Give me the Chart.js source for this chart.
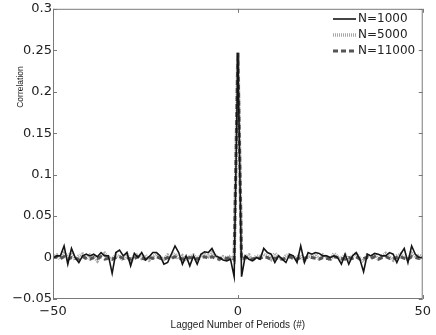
<!DOCTYPE html>
<html>
<head>
<meta charset="utf-8">
<script src="https://cdn.jsdelivr.net/npm/chart.js@4.4.1/dist/chart.umd.min.js"></script>
<style>
  html, body { margin: 0; padding: 0; background: #fff; }
  #wrap { width: 436px; height: 335px; position: relative; }
</style>
</head>
<body>
<div id="wrap"><canvas id="grafico"></canvas></div>
<script>
// lags -50 .. 50
const lags = [];
for (let i = -50; i <= 50; i++) lags.push(i);

const seriesNames = ['N=1000', 'N=5000', 'N=11000'];

const corrN1000 = [
  -0.001, 0.002, 0.002, 0.014, -0.008, 0.011, 0.000, -0.006, 0.002, 0.004,
  0.002, 0.004, 0.001, 0.006, 0.002, 0.002, -0.019, 0.006, 0.009, 0.002,
  0.006, -0.010, 0.005, 0.000, 0.006, -0.003, 0.001, 0.006, 0.006, 0.002,
  -0.008, -0.006, 0.004, 0.014, 0.006, -0.008, 0.002, -0.010, 0.002, -0.008,
  0.004, 0.007, 0.006, 0.011, 0.002, 0.000, -0.003, -0.004, -0.002, -0.023,
  0.247,
  -0.023, 0.002, -0.002, -0.004, 0.000, -0.002, 0.011, 0.006, 0.004, -0.006,
  0.002, -0.002, -0.006, 0.004, 0.002, -0.006, 0.014, -0.006, 0.006, 0.004,
  0.006, 0.005, 0.002, 0.002, 0.000, 0.002, 0.000, -0.008, 0.004, -0.008,
  0.002, 0.006, -0.002, -0.017, 0.004, 0.002, 0.005, 0.004, 0.002, 0.002,
  0.006, 0.004, -0.006, 0.004, 0.011, -0.006, 0.014, 0.004, 0.000, 0.000
];

const corrN5000 = [
  0.001, 0.003, -0.002, 0.005, 0.001, 0.006, -0.003, 0.002, 0.004, -0.002,
  0.003, 0.001, -0.004, 0.002, 0.005, 0.000, -0.002, 0.003, 0.001, -0.003,
  0.004, -0.005, 0.002, 0.004, -0.001, 0.003, -0.003, 0.001, 0.004, 0.000,
  -0.002, 0.003, 0.001, 0.005, -0.002, 0.002, -0.004, 0.001, 0.003, -0.001,
  0.002, 0.004, 0.001, 0.006, 0.002, -0.002, 0.001, -0.001, 0.002, -0.003,
  0.247,
  -0.003, 0.001, 0.003, -0.004, 0.002, 0.001, 0.004, 0.002, -0.002, 0.005,
  0.001, -0.003, 0.002, 0.004, -0.002, 0.001, 0.003, -0.004, 0.002, 0.001,
  0.004, -0.002, 0.003, 0.000, -0.003, 0.005, 0.001, -0.002, 0.003, -0.004,
  0.002, 0.005, -0.001, -0.005, 0.003, 0.001, 0.004, -0.002, 0.002, 0.005,
  0.001, -0.003, 0.002, 0.004, 0.000, -0.002, 0.005, 0.001, 0.003, 0.000
];

const corrN11000 = [
  0.000, 0.001, -0.001, 0.001, -0.002, 0.000, -0.001, -0.002, 0.001, -0.001,
  -0.002, 0.000, -0.001, 0.001, -0.002, -0.001, -0.002, 0.000, 0.001, -0.001,
  0.000, -0.002, -0.001, 0.001, -0.001, -0.002, 0.000, -0.001, 0.001, -0.001,
  -0.002, 0.000, -0.001, 0.001, 0.000, -0.002, -0.001, 0.000, -0.001, -0.002,
  0.000, 0.001, -0.001, 0.001, -0.001, -0.002, 0.000, -0.001, 0.000, -0.002,
  0.247,
  -0.002, 0.000, -0.001, -0.002, 0.000, -0.001, 0.001, 0.000, -0.002, -0.001,
  0.000, -0.002, -0.001, 0.001, -0.001, -0.002, 0.000, -0.001, 0.001, 0.000,
  -0.001, -0.002, 0.000, -0.001, -0.002, 0.001, 0.000, -0.001, -0.002, 0.000,
  -0.001, 0.001, -0.002, -0.001, 0.000, -0.001, 0.001, -0.002, 0.000, 0.001,
  -0.001, -0.002, 0.000, 0.001, -0.001, -0.002, 0.001, 0.000, -0.001, 0.000
];

const xTicks = [-50, 0, 50];
const yTicks = [-0.05, 0, 0.05, 0.1, 0.15, 0.2, 0.25, 0.3];

const corFrame = '#7a7a7a';

function pares(valores) {
  return lags.map((l, i) => ({ x: l, y: valores[i] }));
}

function fmt(v) {
  const s = String(Math.round(v * 1000) / 1000);
  return s.replace('-', '\u2212');
}

// frame, inward ticks, legend and y title drawn MATLAB style
const estiloMatlab = {
  id: 'estiloMatlab',
  afterDatasetsDraw(chart) {
    const ctx = chart.ctx;
    const a = chart.chartArea;
    const sx = chart.scales.x;
    const sy = chart.scales.y;
    ctx.save();
    ctx.strokeStyle = corFrame;
    ctx.lineWidth = 1;
    ctx.setLineDash([]);
    ctx.strokeRect(a.left + 0.5, a.top + 0.5, a.right - a.left - 1, a.bottom - a.top - 1);
    ctx.beginPath();
    xTicks.forEach(v => {
      const px = Math.round(sx.getPixelForValue(v)) + 0.5;
      ctx.moveTo(px, a.bottom); ctx.lineTo(px, a.bottom - 4);
      ctx.moveTo(px, a.top); ctx.lineTo(px, a.top + 4);
    });
    yTicks.forEach(v => {
      const py = Math.round(sy.getPixelForValue(v)) + 0.5;
      ctx.moveTo(a.left, py); ctx.lineTo(a.left + 4, py);
      ctx.moveTo(a.right, py); ctx.lineTo(a.right - 4, py);
    });
    ctx.stroke();

    // legend
    const x0 = 333, x1 = 356, linhas = [19, 35, 51];
    chart.data.datasets.forEach((ds, i) => {
      ctx.strokeStyle = ds.borderColor;
      ctx.lineWidth = ds.borderWidth;
      ctx.setLineDash(ds.borderDash || []);
      ctx.beginPath();
      ctx.moveTo(x0, linhas[i]);
      ctx.lineTo(x1, linhas[i]);
      ctx.stroke();
      ctx.setLineDash([]);
      ctx.fillStyle = '#222';
      ctx.font = '12px "DejaVu Sans", sans-serif';
      ctx.textBaseline = 'middle';
      ctx.textAlign = 'left';
      ctx.fillText(ds.label, x1 + 2, linhas[i]);
    });

    // y title (sits high on the axis in the original)
    ctx.translate(21, 87);
    ctx.rotate(-Math.PI / 2);
    ctx.fillStyle = '#222';
    ctx.font = '8.5px "Liberation Sans", Arial, sans-serif';
    ctx.textAlign = 'center';
    ctx.textBaseline = 'middle';
    ctx.fillText('Correlation', 0, 0);
    ctx.restore();
  }
};

document.addEventListener('DOMContentLoaded', function () {
  const ctx = document.getElementById('grafico').getContext('2d');
  new Chart(ctx, {
    type: 'line',
    data: {
      datasets: [
        {
          label: seriesNames[0],
          data: pares(corrN1000),
          borderColor: '#151515',
          borderWidth: 1.6,
          order: 0
        },
        {
          label: seriesNames[1],
          data: pares(corrN5000),
          borderColor: '#a8a8a8',
          borderWidth: 3.5,
          borderDash: [1, 1],
          order: 2
        },
        {
          label: seriesNames[2],
          data: pares(corrN11000),
          borderColor: '#555555',
          borderWidth: 3,
          borderDash: [5, 3],
          order: 1
        }
      ]
    },
    options: {
      responsive: true,
      maintainAspectRatio: false,
      animation: false,
      layout: { padding: { left: 0, top: 5, right: 12, bottom: 0 } },
      elements: { point: { radius: 0 }, line: { tension: 0 } },
      plugins: {
        legend: { display: false },
        tooltip: { enabled: false }
      },
      scales: {
        x: {
          type: 'linear',
          min: -50,
          max: 50,
          grid: { display: false, drawTicks: false },
          border: { display: false },
          afterBuildTicks: s => { s.ticks = xTicks.map(v => ({ value: v })); },
          ticks: {
            color: '#222',
            font: { family: '"DejaVu Sans", sans-serif', size: 13 },
            padding: 5,
            maxRotation: 0,
            callback: v => fmt(v)
          },
          title: {
            display: true,
            text: 'Lagged Number of Periods (#)',
            color: '#222',
            font: { family: '"Liberation Sans", Arial, sans-serif', size: 10 },
            padding: { top: 0, bottom: 4 }
          },
          afterFit: s => { s.height = 36; }
        },
        y: {
          min: -0.05,
          max: 0.3,
          grid: { display: false, drawTicks: false },
          border: { display: false },
          afterBuildTicks: s => { s.ticks = yTicks.map(v => ({ value: v })); },
          ticks: {
            color: '#222',
            font: { family: '"DejaVu Sans", sans-serif', size: 13 },
            padding: 1,
            callback: v => fmt(v)
          },
          afterFit: s => { s.width = 53; }
        }
      }
    },
    plugins: [estiloMatlab]
  });
});
</script>
</body>
</html>
